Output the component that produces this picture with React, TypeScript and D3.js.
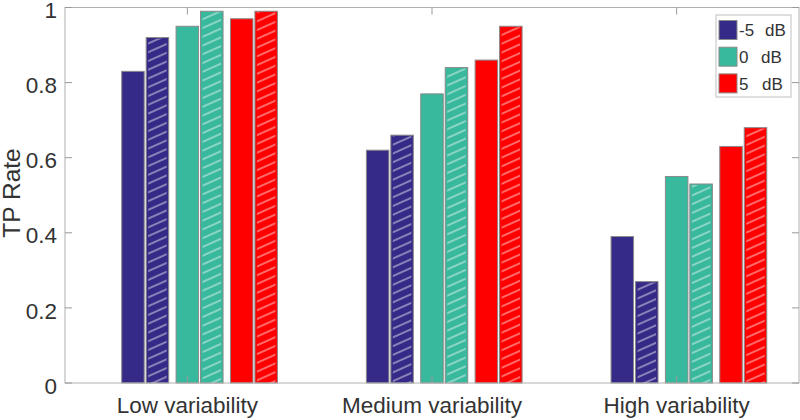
import React from 'react';
import * as d3 from 'd3';

const categories = ['Low variability', 'Medium variability', 'High variability'];
const seriesNumbers = ['-5', '0', '5'];
const seriesUnit = 'dB';
const seriesColors = ['#352a87', '#38b89c', '#ff0000'];
// solid bars (first condition) and hatched bars (second condition), per category
const minus5Solid = [0.83, 0.62, 0.39];
const minus5Hatched = [0.92, 0.66, 0.27];
const zeroSolid = [0.95, 0.77, 0.55];
const zeroHatched = [0.99, 0.84, 0.53];
const fiveSolid = [0.97, 0.86, 0.63];
const fiveHatched = [0.99, 0.95, 0.68];
const yTicks = [0, 0.2, 0.4, 0.6, 0.8, 1];
const yTickLabels = ['0', '0.2', '0.4', '0.6', '0.8', '1'];
const yLabel = 'TP Rate';

const solidSeries = [minus5Solid, zeroSolid, fiveSolid];
const hatchedSeries = [minus5Hatched, zeroHatched, fiveHatched];

const W = 800;
const H = 420;
const left = 65;
const right = 799;
const top = 7.5;
const bottom = 383;
const FONT = '"Liberation Sans", Arial, Helvetica, sans-serif';
const TEXT = '#333333';
const AXIS = '#b0b0b0';
const TICK = '#999999';

export default function App() {
  const x = d3.scaleLinear().domain([0.5, 3.5]).range([left, right]);
  const y = d3.scaleLinear().domain([0, 1]).range([bottom, top]);
  const groupStep = 2 / 9;
  const hatchShift = 0.1;
  const barW = 0.092;
  const bw = x(barW) - x(0);

  const bars: any[] = [];
  categories.forEach((_, i) => {
    for (let k = 0; k < 3; k++) {
      const cSolid = i + 1 + (k - 1) * groupStep;
      const cHatch = cSolid + hatchShift;
      bars.push({ key: `s${i}${k}`, cx: x(cSolid), v: solidSeries[k][i], color: seriesColors[k], hatch: false });
      bars.push({ key: `h${i}${k}`, cx: x(cHatch), v: hatchedSeries[k][i], color: seriesColors[k], hatch: true });
    }
  });

  const tickLen = 7;
  const unitX = [765, 761, 762];

  return (
    <div style={{ position: 'fixed', left: 0, top: 0 }}>
      <svg width={W} height={H} style={{ display: 'block', background: '#fff' }}>
        <defs>
          <pattern id="hatch" patternUnits="userSpaceOnUse" width={8} height={8} patternTransform="rotate(-24)">
            <line x1={0} y1={4} x2={8} y2={4} stroke="#ffffff" strokeOpacity={0.75} strokeWidth={1.1} />
          </pattern>
        </defs>
        {/* bars */}
        {bars.map((b) => {
          const x0 = b.cx - bw / 2;
          const y0 = y(b.v);
          const h = y(0) - y0;
          return (
            <g key={b.key}>
              <rect x={x0} y={y0} width={bw} height={h} fill={b.color} stroke="#8a8a8a" strokeWidth={1} />
              {b.hatch && (
                <rect x={x0 + 2} y={y0 + 1} width={bw - 4} height={h - 1} fill="url(#hatch)" />
              )}
            </g>
          );
        })}
        {/* axes box */}
        <rect x={left} y={top} width={right - left} height={bottom - top} fill="none" stroke={AXIS} strokeWidth={1} />
        {/* y ticks */}
        {yTicks.map((t, i) => (
          <g key={`yt${i}`}>
            <line x1={left} x2={left + tickLen} y1={y(t)} y2={y(t)} stroke={TICK} />
            <line x1={right} x2={right - tickLen} y1={y(t)} y2={y(t)} stroke={TICK} />
            <text x={57} y={y(t) + 2.5} dy="0.36em" textAnchor="end" fontFamily={FONT} fontSize={22.5} fill={TEXT}>
              {yTickLabels[i]}
            </text>
          </g>
        ))}
        {/* x ticks */}
        {categories.map((c, i) => (
          <g key={`xt${i}`}>
            <line x1={x(i + 1)} x2={x(i + 1)} y1={bottom} y2={bottom - tickLen} stroke={TICK} />
            <line x1={x(i + 1)} x2={x(i + 1)} y1={top} y2={top + tickLen} stroke={TICK} />
            <text x={x(i + 1)} y={413} textAnchor="middle" fontFamily={FONT} fontSize={22.5} fill={TEXT}>
              {c}
            </text>
          </g>
        ))}
        {/* y label */}
        <text
          transform={`translate(${19.5},${193}) rotate(-90)`}
          textAnchor="middle"
          fontFamily={FONT}
          fontSize={24.5}
          fill={TEXT}
        >
          {yLabel}
        </text>
        {/* legend */}
        <g>
          <rect x={716} y={15} width={75} height={82} fill="#ffffff" stroke="#c0c0c0" />
          {seriesNumbers.map((s, k) => (
            <g key={`lg${k}`}>
              <rect x={719} y={20.5 + k * 26.7} width={18} height={19} fill={seriesColors[k]} stroke="#8a8a8a" />
              <text x={739} y={30 + k * 26.7} dy="0.36em" fontFamily={FONT} fontSize={17} fill={TEXT}>
                <tspan>{s}</tspan>
                <tspan x={unitX[k]}>{seriesUnit}</tspan>
              </text>
            </g>
          ))}
        </g>
      </svg>
    </div>
  );
}
